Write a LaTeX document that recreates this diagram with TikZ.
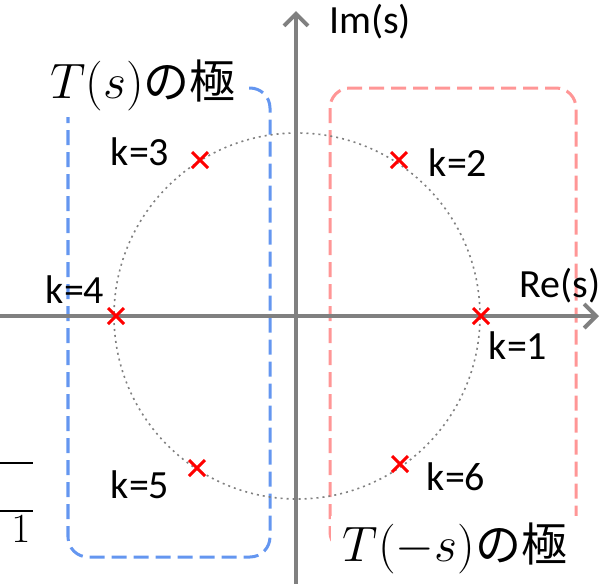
\documentclass[tikz,border=0pt]{standalone}
\usepackage{amsmath}
\usepackage{fontspec}
\newfontfamily\labelfont{Carlito}
\newfontfamily\jpfont{Noto Sans CJK JP}
\usepackage{tikz}
\usetikzlibrary{shapes.misc, arrows.meta, positioning, calc}
\definecolor{axisgray}{RGB}{128,128,128}
\definecolor{poleblue}{RGB}{100,150,240}
\definecolor{polepink}{RGB}{255,150,150}

\begin{document}
\begin{tikzpicture}[
    x=0.5pt, y=-0.5pt,
    axis/.style={
        draw=axisgray,
        line width=2pt,
        -{Straight Barb[length=6pt,width=12pt,line width=2pt]}
    },
    unit_circle/.style={
        draw=axisgray,
        line width=0.8pt,
        dash pattern=on 1pt off 2pt
    },
    pole/.style={
        cross out,
        draw=red,
        line width=1.5pt,
        minimum size=6.5pt,
        inner sep=0pt
    },
    k_label/.style={
        font=\labelfont\fontsize{20}{23}\selectfont,
        inner sep=1pt
    },
    region_blue/.style={
        draw=poleblue,
        line width=1.5pt,
        dash pattern=on 7.5pt off 3.5pt,
        rounded corners=10pt
    },
    region_pink/.style={
        draw=polepink,
        line width=1.5pt,
        dash pattern=on 7.5pt off 3.5pt,
        rounded corners=10pt
    },
    region_label/.style={
        fill=white,
        inner xsep=6pt,
        inner ysep=3pt,
        font=\fontsize{23}{27}\selectfont
    },
    frac_bar/.style={
        draw=black,
        line width=1.2pt
    }
]
\useasboundingbox (0,0) rectangle (607,584);

% Pole regions
\draw[region_blue] (68,88) rectangle (270,557);
\draw[region_pink] (330,88) rectangle (576,552);

% Axes
\coordinate (re_start) at (0,316);
\coordinate (re_end) at (599,316);
\coordinate (im_start) at (296,584);
\coordinate (im_end) at (296,11);
\draw[axis] (re_start) -- (re_end);
\draw[axis] (im_start) -- (im_end);
\node[k_label] (re) at (560,286) {Re(s)};
\node[k_label] (im) at (370,22) {Im(s)};

% Unit circle
\coordinate (origin) at (297,316);
\draw[unit_circle] (origin) circle[radius=91.5pt];

% Poles
\node[pole] (p1) at (481,316) {};
\node[pole] (p2) at (399,160) {};
\node[pole] (p3) at (200,160) {};
\node[pole] (p4) at (116,316) {};
\node[pole] (p5) at (197,468) {};
\node[pole] (p6) at (400,464) {};

\node[k_label] (k1) at (518,346) {k=1};
\node[k_label] (k2) at (458,163) {k=2};
\node[k_label] (k3) at (140,152) {k=3};
\node[k_label] (k4) at (75,290) {k=4};
\node[k_label] (k5) at (140,485) {k=5};
\node[k_label] (k6) at (456,477) {k=6};

% Region labels
\node[region_label] (stable) at (143,85) {$T(s)$\jpfont の極};
\node[region_label] (unstable) at (455,548) {$T(-s)$\jpfont の極};

% Clipped fraction at the left edge
\coordinate (bar1_l) at (0,463);
\coordinate (bar1_r) at (33,463);
\coordinate (bar2_l) at (0,511);
\coordinate (bar2_r) at (33,511);
\draw[frac_bar] (bar1_l) -- (bar1_r);
\draw[frac_bar] (bar2_l) -- (bar2_r);
\node[font=\fontsize{21}{24}\selectfont, inner sep=0pt] (one) at (21,529) {$1$};

\end{tikzpicture}
\end{document}
